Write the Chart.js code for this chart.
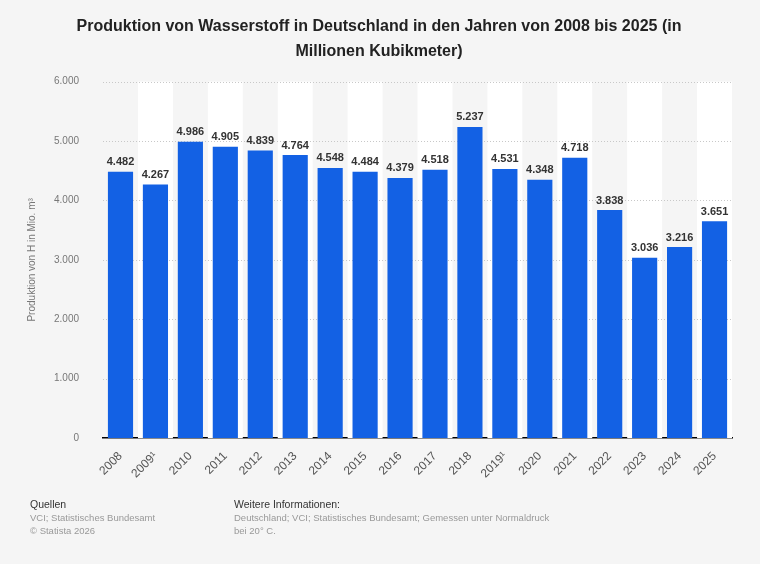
<!DOCTYPE html>
<html><head><meta charset="utf-8">
<script src="https://cdn.jsdelivr.net/npm/chart.js@4"></script>
<style>
body{margin:0;background:#f5f5f5;font-family:"Liberation Sans",Arial,sans-serif}
#wrap{position:relative;width:760px;height:564px}
.ft{position:absolute;font-size:9.5px;color:#999;line-height:13px}
.ft b{font-weight:normal;color:#333;font-size:10.5px}
</style></head><body>
<div id="wrap"><canvas id="c" width="760" height="564"></canvas>
<div class="ft" style="left:30px;top:498px"><b>Quellen</b><br>VCI; Statistisches Bundesamt<br>© Statista 2026</div>
<div class="ft" style="left:234px;top:498px"><b>Weitere Informationen:</b><br>Deutschland; VCI; Statistisches Bundesamt; Gemessen unter Normaldruck<br>bei 20° C.</div>
</div>
<script>
// Produktion in Mio. m³
const years = ["2008","2009¹","2010","2011","2012","2013","2014","2015","2016","2017","2018","2019¹","2020","2021","2022","2023","2024","2025"];
const values = [4482,4267,4986,4905,4839,4764,4548,4484,4379,4518,5237,4531,4348,4718,3838,3036,3216,3651];
const yTicks = [0,1000,2000,3000,4000,5000,6000];

const fmt = v => v.toLocaleString("de-DE");

const bands = {
  id: "bands",
  beforeDatasetsDraw(chart) {
    const {ctx, chartArea: a, scales: {x}} = chart;
    const w = (a.right - a.left) / years.length;
    ctx.save();
    ctx.fillStyle = "#ffffff";
    years.forEach((y, i) => {
      if (i % 2 === 1) ctx.fillRect(x.getPixelForValue(i) - w / 2, a.top, w, a.bottom - a.top);
    });
    // dotted grid
    ctx.strokeStyle = "#c8c8c8";
    ctx.setLineDash([1, 2]);
    const s = chart.scales.y;
    yTicks.slice(1).forEach(t => {
      const py = Math.round(s.getPixelForValue(t)) + 0.5;
      ctx.beginPath(); ctx.moveTo(a.left, py); ctx.lineTo(a.right, py); ctx.stroke();
    });
    ctx.restore();
  },
  afterDatasetsDraw(chart) {
    const {ctx} = chart;
    const meta = chart.getDatasetMeta(0);
    ctx.save();
    ctx.font = "bold 11px 'Liberation Sans', Arial";
    ctx.fillStyle = "#333";
    ctx.textAlign = "center";
    ctx.textBaseline = "bottom";
    meta.data.forEach((b, i) => ctx.fillText(fmt(values[i]), b.x, b.y - 4));
    ctx.restore();
  }
};

new Chart(document.getElementById("c"), {
  type: "bar",
  data: { labels: years, datasets: [{ data: values, backgroundColor: "#1361e4", categoryPercentage: 0.72, barPercentage: 1 }] },
  plugins: [bands],
  options: {
    responsive: false,
    animation: false,
    layout: { padding: { left: 26, right: 28, top: 8, bottom: 80 } },
    plugins: {
      legend: { display: false },
      tooltip: { enabled: false },
      title: {
        display: true,
        text: ["Produktion von Wasserstoff in Deutschland in den Jahren von 2008 bis 2025 (in", "Millionen Kubikmeter)"],
        color: "#222",
        font: { family: "'Liberation Sans', Arial", size: 16, weight: "bold", lineHeight: 1.55 },
        padding: { top: 6, bottom: 18 }
      }
    },
    scales: {
      x: {
        grid: { display: false },
        border: { color: "#000", width: 1.5 },
        ticks: { color: "#555", font: { family: "'Liberation Sans', Arial", size: 12 }, maxRotation: 45, minRotation: 45 }
      },
      y: {
        min: 0, max: 6000,
        afterBuildTicks: s => { s.ticks = yTicks.map(v => ({ value: v })); },
        grid: { display: false },
        border: { display: false },
        ticks: { color: "#777", padding: 16, font: { family: "'Liberation Sans', Arial", size: 10 }, callback: v => fmt(v) },
        title: { display: true, text: "Produktion von H in Mio. m³", color: "#777", padding: 0, font: { family: "'Liberation Sans', Arial", size: 10 } }
      }
    }
  }
});
</script>
</body></html>
